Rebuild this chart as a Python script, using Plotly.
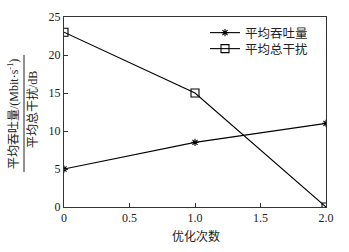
import plotly.graph_objects as go

iterations = [0, 1, 2]
throughput = [5, 8.5, 11]
interference = [23, 15, 0]
x_ticks = [0, 0.5, 1.0, 1.5, 2.0]
x_ticktext = ["0", "0.5", "1.0", "1.5", "2.0"]
y_ticks = [0, 5, 10, 15, 20, 25]

serif = "Liberation Serif, Noto Sans CJK SC, serif"

W, H = 349, 252
L, R, T, B = 64, 23, 17, 45
pw, ph = W - L - R, H - T - B

def px(x):
    return (x - L) / pw

def py(y):
    return (H - B - y) / ph

fig = go.Figure()
fig.add_trace(go.Scatter(
    x=iterations, y=throughput, mode="lines+markers", name="平均吞吐量", legend="legend",
    line=dict(color="black", width=1.1),
    marker=dict(symbol="asterisk-open", size=6, color="black", line=dict(width=1.1, color="black")),
))
fig.add_trace(go.Scatter(
    x=iterations, y=interference, mode="lines+markers", name="平均总干扰", legend="legend2",
    line=dict(color="black", width=1.1),
    marker=dict(symbol="square-open", size=8, color="black", line=dict(width=1.1, color="black")),
))

leg_common = dict(xanchor="left", yanchor="middle", bgcolor="rgba(0,0,0,0)",
                  font=dict(family=serif, size=12.5, color="#222"), itemwidth=30)

fig.update_layout(
    width=W, height=H,
    margin=dict(l=L, r=R, t=T, b=B, autoexpand=False),
    paper_bgcolor="white", plot_bgcolor="white",
    showlegend=True,
    legend=dict(x=px(205), y=py(33), **leg_common),
    legend2=dict(x=px(205), y=py(49), **leg_common),
    font=dict(family=serif, size=12, color="#222"),
)
fig.update_xaxes(
    range=[0, 2], tickvals=x_ticks, ticktext=x_ticktext, automargin=False,
    showgrid=False, zeroline=False, showline=True, linecolor="#333", linewidth=1, mirror=True,
    ticks="inside", ticklen=4, tickcolor="#333",
    tickfont=dict(family=serif, size=12, color="#222"),
)
fig.update_yaxes(
    range=[0, 25], tickvals=y_ticks, automargin=False,
    showgrid=False, zeroline=False, showline=True, linecolor="#333", linewidth=1, mirror=True,
    ticks="inside", ticklen=4, tickcolor="#333",
    tickfont=dict(family=serif, size=12, color="#222"),
)

fig.add_annotation(
    text="优化次数", xref="paper", yref="paper",
    x=px(196), y=py(236), xanchor="center", yanchor="middle", showarrow=False,
    font=dict(family=serif, size=12, color="#222"),
)
fig.add_annotation(
    text="平均吞吐量/(Mbit·s<sup>-1</sup>)", xref="paper", yref="paper",
    x=px(13), y=py(114), xanchor="center", yanchor="middle", textangle=-90, showarrow=False,
    font=dict(family=serif, size=12, color="#222"),
)
fig.add_annotation(
    text="平均总干扰/dB", xref="paper", yref="paper",
    x=px(33), y=py(110), xanchor="center", yanchor="middle", textangle=-90, showarrow=False,
    font=dict(family=serif, size=12, color="#222"),
)
fig.add_shape(type="line", xref="paper", yref="paper",
              x0=px(24), x1=px(24), y0=py(172), y1=py(55),
              line=dict(color="#222", width=1))

fig.write_html("out.html", config={"displayModeBar": False},
               post_script="document.body.style.margin='0';")
